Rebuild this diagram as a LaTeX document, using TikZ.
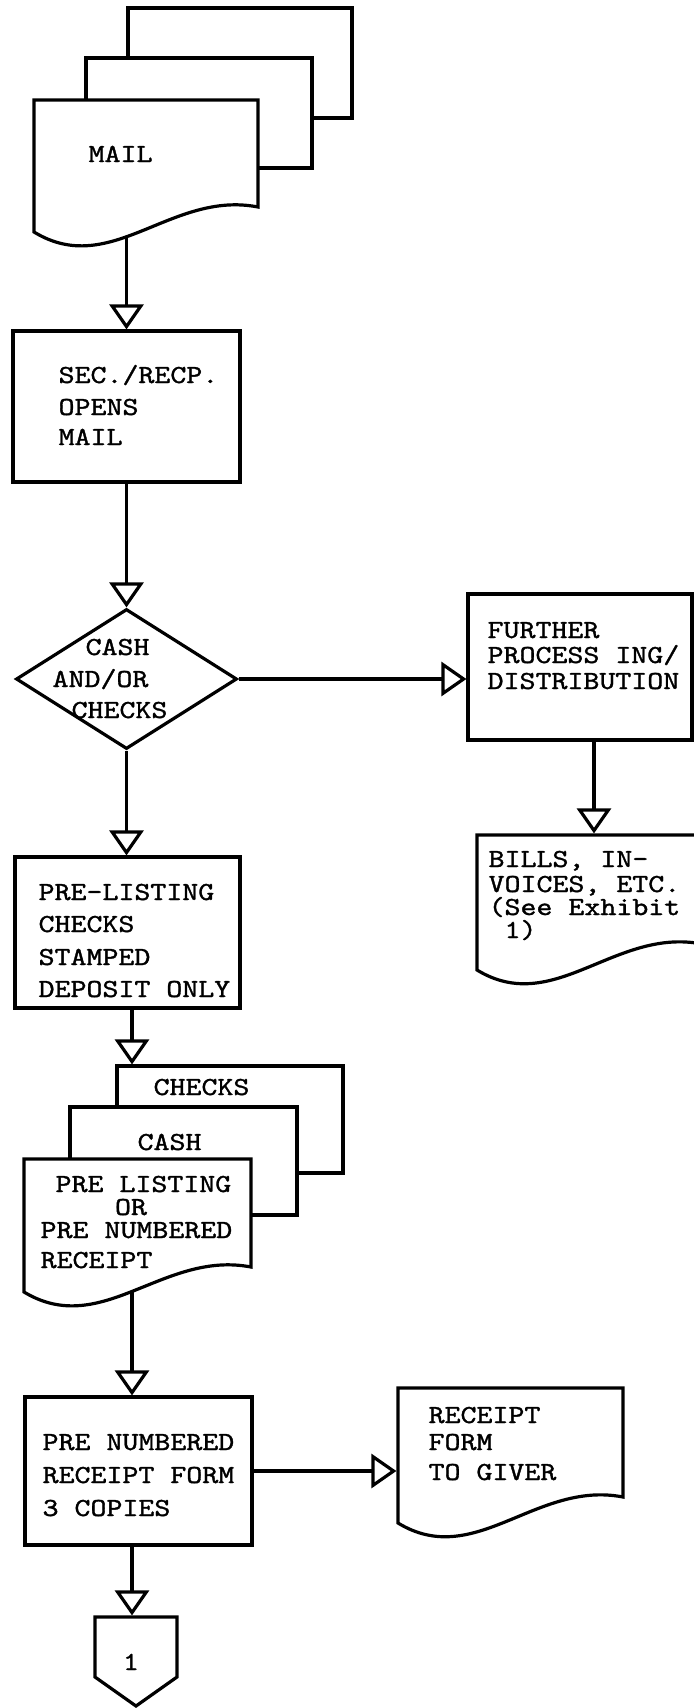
\documentclass[tikz,border=0pt]{standalone}
\usepackage{fontspec}
\usetikzlibrary{arrows.meta,shapes.geometric,fit}

% typewriter face, slightly emboldened like the typed originals
\newfontfamily\typer{lmmono10-regular.otf}[FakeBold=1.2]

\tikzset{
  box/.style={draw, line width=1.6pt, inner sep=0pt},
  slot/.style={inner sep=0pt},
  paper/.style={draw, fill=white, line width=1.6pt},
  flow/.style={line width=1.6pt, -{Triangle[open, length=12.5pt, width=17pt]}},
  lbl/.style={anchor=base west, inner sep=0pt, font=\typer\fontsize{13}{15}\selectfont},
}
% typewriter lines, widened to the pitch of the typed originals
\newcommand\tw[1]{\scalebox{1.17}[1]{#1}}
\newcommand\tl[3]{\node[lbl] (#1) at (#2) {\tw{#3}};}

\begin{document}
\begin{tikzpicture}[x=0.5pt, y=-0.5pt, line width=1.6pt]
\useasboundingbox (0,0) rectangle (693,1708);

% process boxes and decision
\node[box, fit={(13,331) (240,482)}] (open) {};
\node[diamond, draw, minimum width=110.5pt, minimum height=70pt, inner sep=0pt] (dia) at (126.5,679) {};
\node[box, fit={(468,594) (692,740)}] (further) {};
\node[box, fit={(15,857) (240,1008)}] (prelist) {};
\node[box, fit={(25,1397) (252,1545)}] (numbox) {};

% frames of the document symbols (outlines drawn further down)
\node[slot, fit={(34,100) (258,207)}] (mail) {};
\node[slot, fit={(477,835) (702,944)}] (bills) {};
\node[slot, fit={(117,1066) (343,1173)}] (checks) {};
\node[slot, fit={(24,1159) (251,1267)}] (listing) {};
\node[slot, fit={(398,1388) (623,1497)}] (giver) {};
\node[slot, fit={(95,1617) (177,1677)}] (conn) {};
\coordinate (lane) at (132,0);
\coordinate (billslane) at (594,0);

% flow lines
\draw[flow] (mail.south -| open.north) -- (open.north);
\draw[flow] (open.south) -- (dia.north);
\draw[flow] (dia.east) -- (dia.east -| further.west);
\draw[flow] (further.south -| billslane) -- (bills.north -| billslane);
\draw[flow] (dia.south) -- (dia.south |- prelist.north);
\draw[flow] (prelist.south -| lane) -- (checks.north -| lane);
\draw[flow] (listing.south -| lane) -- (numbox.north -| lane);
\draw[flow] (numbox.east) -- (numbox.east -| giver.west);
\draw[flow] (numbox.south -| lane) -- (conn.north -| lane);

% mail: stacked documents
\draw[paper] (128,8) rectangle (352,118);
\draw[paper] (86,58) rectangle (312,168);
\draw[paper] (34,100) -- (258,100) -- (258,207) .. controls (171,190) and (111,279) .. (34,232) -- cycle;

% bills, invoices
\draw[paper] (477,835) -- (702,835) -- (702,944) .. controls (615,927) and (554,1017) .. (477,970) -- cycle;

% checks / cash / pre listing stack
\draw[paper] (117,1066) rectangle (343,1173);
\draw[paper] (70,1107) rectangle (297,1215);
\draw[paper] (24,1159) -- (251,1159) -- (251,1267) .. controls (163,1250) and (102,1339) .. (24,1292) -- cycle;

% receipt form to giver
\draw[paper] (398,1388) -- (623,1388) -- (623,1497) .. controls (536,1480) and (475,1570) .. (398,1523) -- cycle;

% off-page connector
\draw[paper] (95,1617) -- (177,1617) -- (177,1677) -- (136,1706) -- (95,1677) -- cycle;

% texts
\tl{m1}{87,162}{MAIL}
\tl{s1}{57,383}{SEC./RECP.}
\tl{s2}{57,415}{OPENS}
\tl{s3}{57,445}{MAIL}
\tl{d1}{84,655}{CASH}
\tl{d2}{51,687}{AND/OR}
\tl{d3}{70,718}{CHECKS}
\tl{f1}{486,638}{FURTHER}
\tl{f2}{486,663}{PROCESS ING/}
\tl{f3}{486,689}{DISTRIBUTION}
\tl{b1}{487,867}{BILLS, IN-}
\tl{b2}{487,892}{VOICES, ETC.}
\tl{b3}{487,915}{(See Exhibit}
\tl{b4}{487,938}{\ 1)}
\tl{p1}{37,900}{PRE-LISTING}
\tl{p2}{37,932}{CHECKS}
\tl{p3}{37,965}{STAMPED}
\tl{p4}{37,997}{DEPOSIT ONLY}
\tl{c1}{152,1095}{CHECKS}
\tl{c2}{136,1150}{CASH}
\tl{r1}{54,1192}{PRE LISTING}
\node[lbl, anchor=base] (r2) at (131,1215) {\tw{OR}};
\tl{r3}{39,1238}{PRE NUMBERED}
\tl{r4}{39,1268}{RECEIPT}
\tl{n1}{41,1450}{PRE NUMBERED}
\tl{n2}{41,1483}{RECEIPT FORM}
\tl{n3}{41,1516}{3 COPIES}
\tl{g1}{427,1423}{RECEIPT}
\tl{g2}{427,1450}{FORM}
\tl{g3}{427,1480}{TO GIVER}
\node[lbl, anchor=base] (k1) at (131,1670) {\tw{1}};
\end{tikzpicture}
\end{document}
